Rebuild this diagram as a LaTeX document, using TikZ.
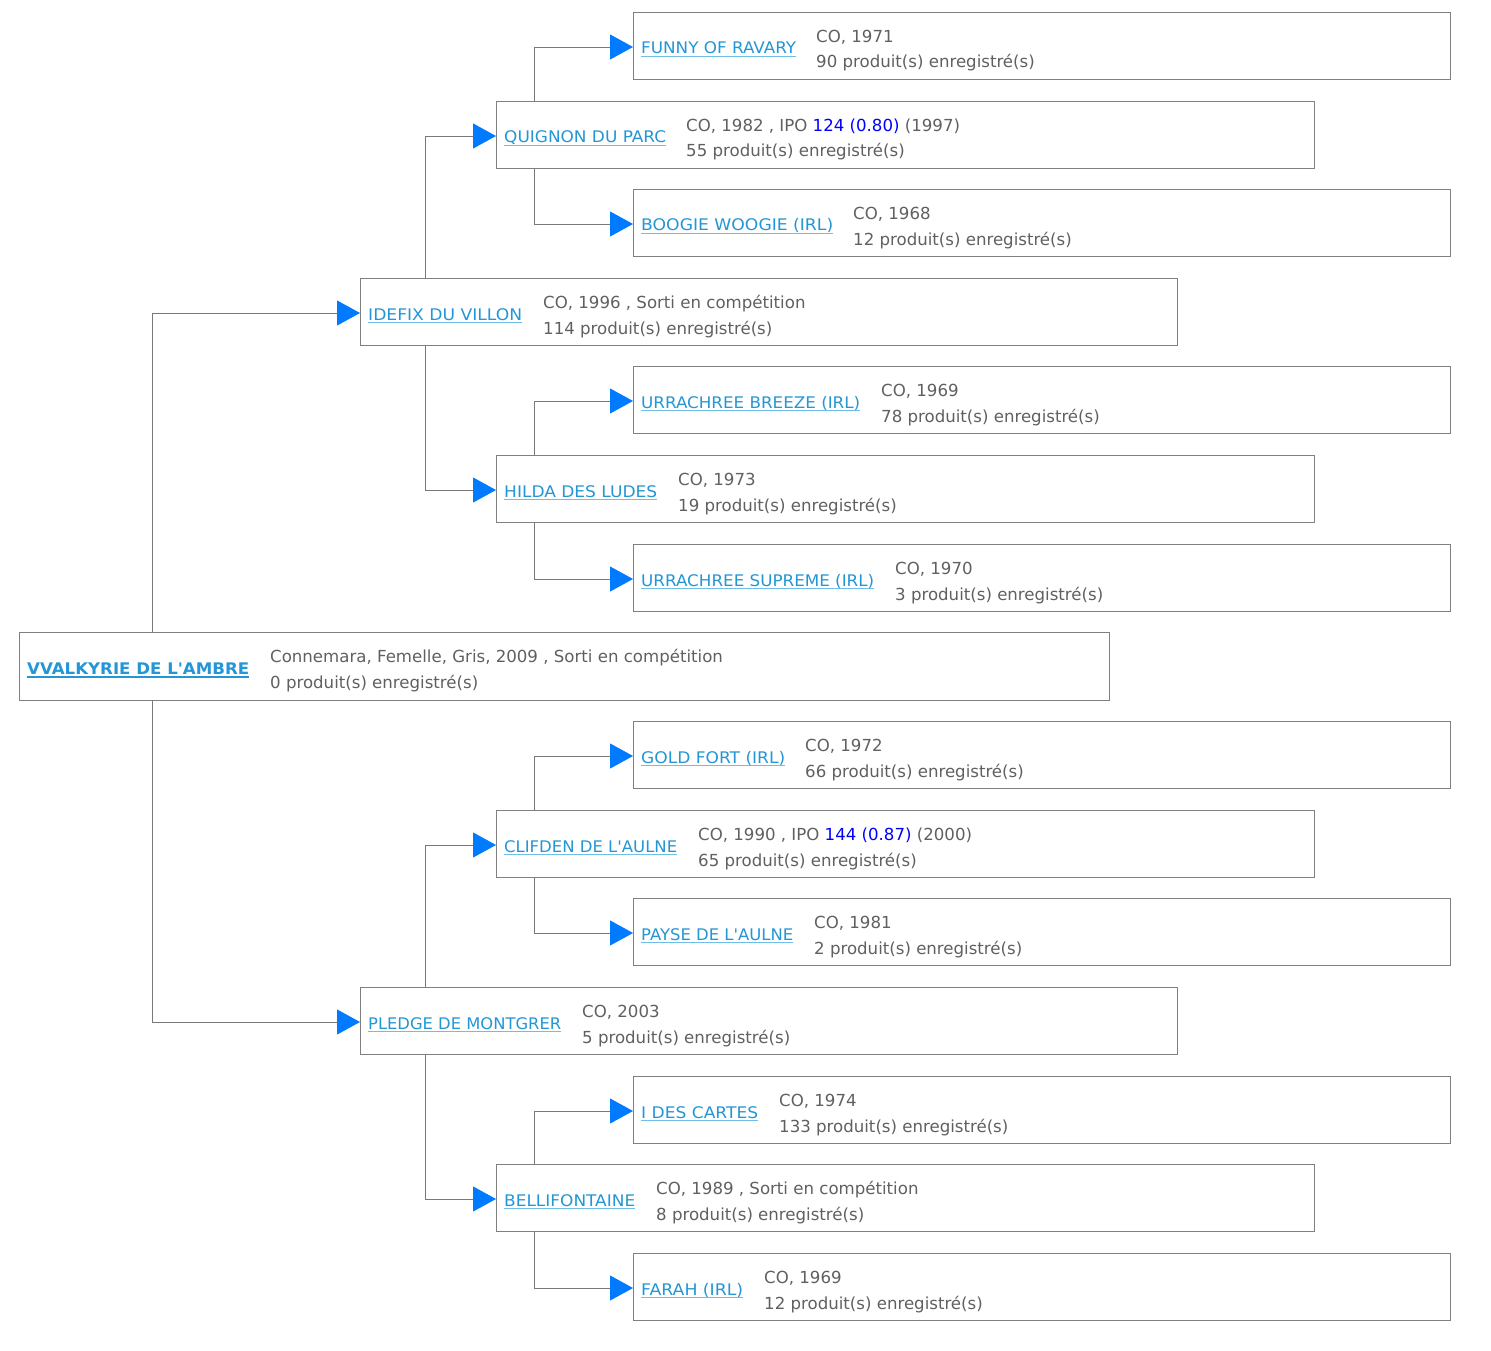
\documentclass[tikz,border=0pt]{standalone}
\usepackage{fontspec}
\setmainfont{DejaVu Sans}
\usepackage{graphicx}
\usetikzlibrary{arrows.meta}
\definecolor{boxgray}{RGB}{128,128,128}
\definecolor{linegray}{RGB}{120,120,120}
\definecolor{linkblue}{RGB}{36,150,214}
\definecolor{ulblue}{RGB}{110,190,232}
\definecolor{detgray}{RGB}{96,96,96}
\definecolor{ipoblue}{RGB}{0,0,255}
\definecolor{arrowblue}{RGB}{0,122,255}
\tikzset{
  box/.style={draw=boxgray, line width=1.2pt, fill=white, anchor=north west, inner sep=0pt, minimum height=67pt},
  hname/.style={inner sep=0pt, text=linkblue, font=\fontsize{16pt}{19pt}\selectfont, anchor=base west},
  uline/.style={draw=ulblue, line width=1.2pt},
  det/.style={inner sep=0pt, text=detgray, font=\fontsize{16.6pt}{19pt}\selectfont, anchor=base west},
  conn/.style={draw=linegray, line width=0.9pt, -{Triangle[length=23pt,width=25pt,color=arrowblue]}}
}
\newcommand{\horse}[9]{%
  \node[box, minimum width=#4pt] (#1) at (#2,#3) {};
  \node[hname] (#1-n) at (#2+8,#3+42) {\resizebox{#6pt}{\height}{#5}};
  \draw[uline] ([yshift=-2.5pt]#1-n.base west) -- ([yshift=-2.5pt]#1-n.base east);
  \node[det] (#1-a) at (#7,#3+30.5) {#8};
  \node[det] (#1-b) at (#7,#3+56) {#9};
  \coordinate (#1-in) at (#2,#3+35);
}
\begin{document}
\begin{tikzpicture}[x=1pt,y=-1pt]
\useasboundingbox[fill=white] (0,0) rectangle (1491,1351);
% vertical connector columns
\coordinate (vr) at (152,0);
\coordinate (va) at (425,0);
\coordinate (vb) at (534,0);
% root
\node[box, minimum width=1090pt, minimum height=68pt] (root) at (19,632) {};
\node[hname, font=\fontsize{16pt}{19pt}\selectfont\bfseries] (root-n) at (27,674) {\resizebox{222pt}{\height}{VVALKYRIE DE L\textquotesingle AMBRE}};
\draw[uline, draw=linkblue, line width=2pt] ([yshift=-3pt]root-n.base west) -- ([yshift=-3pt]root-n.base east);
\node[det] (root-a) at (270,662.5) {Connemara, Femelle, Gris, 2009 , Sorti en compétition};
\node[det] (root-b) at (270,688) {0 produit(s) enregistré(s)};
% generation 1
\horse{idx}{360}{278}{817}{IDEFIX DU VILLON}{154}{543}{CO, 1996 , Sorti en compétition}{114 produit(s) enregistré(s)}
\horse{plg}{360}{987}{817}{PLEDGE DE MONTGRER}{193}{582}{CO, 2003}{5 produit(s) enregistré(s)}
% generation 2
\horse{qdp}{496}{101}{818}{QUIGNON DU PARC}{162}{686}{CO, 1982 , IPO \textcolor{ipoblue}{124 (0.80)} (1997)}{55 produit(s) enregistré(s)}
\horse{hdl}{496}{455}{818}{HILDA DES LUDES}{153}{678}{CO, 1973}{19 produit(s) enregistré(s)}
\horse{cla}{496}{810}{818}{CLIFDEN DE L\textquotesingle AULNE}{173}{698}{CO, 1990 , IPO \textcolor{ipoblue}{144 (0.87)} (2000)}{65 produit(s) enregistré(s)}
\horse{bel}{496}{1164}{818}{BELLIFONTAINE}{131}{656}{CO, 1989 , Sorti en compétition}{8 produit(s) enregistré(s)}
% generation 3
\horse{fun}{633}{12}{817}{FUNNY OF RAVARY}{155}{816}{CO, 1971}{90 produit(s) enregistré(s)}
\horse{boo}{633}{189}{817}{BOOGIE WOOGIE (IRL)}{192}{853}{CO, 1968}{12 produit(s) enregistré(s)}
\horse{ubr}{633}{366}{817}{URRACHREE BREEZE (IRL)}{219}{881}{CO, 1969}{78 produit(s) enregistré(s)}
\horse{usu}{633}{544}{817}{URRACHREE SUPREME (IRL)}{233}{895}{CO, 1970}{3 produit(s) enregistré(s)}
\horse{gol}{633}{721}{817}{GOLD FORT (IRL)}{144}{805}{CO, 1972}{66 produit(s) enregistré(s)}
\horse{pay}{633}{898}{817}{PAYSE DE L\textquotesingle AULNE}{152}{814}{CO, 1981}{2 produit(s) enregistré(s)}
\horse{ide}{633}{1076}{817}{I DES CARTES}{117}{779}{CO, 1974}{133 produit(s) enregistré(s)}
\horse{far}{633}{1253}{817}{FARAH (IRL)}{102}{764}{CO, 1969}{12 produit(s) enregistré(s)}
% connectors
\draw[conn] (root.north -| vr) |- (idx-in);
\draw[conn] (root.south -| vr) |- (plg-in);
\draw[conn] (idx.north -| va) |- (qdp-in);
\draw[conn] (idx.south -| va) |- (hdl-in);
\draw[conn] (plg.north -| va) |- (cla-in);
\draw[conn] (plg.south -| va) |- (bel-in);
\draw[conn] (qdp.north -| vb) |- (fun-in);
\draw[conn] (qdp.south -| vb) |- (boo-in);
\draw[conn] (hdl.north -| vb) |- (ubr-in);
\draw[conn] (hdl.south -| vb) |- (usu-in);
\draw[conn] (cla.north -| vb) |- (gol-in);
\draw[conn] (cla.south -| vb) |- (pay-in);
\draw[conn] (bel.north -| vb) |- (ide-in);
\draw[conn] (bel.south -| vb) |- (far-in);
\end{tikzpicture}
\end{document}
